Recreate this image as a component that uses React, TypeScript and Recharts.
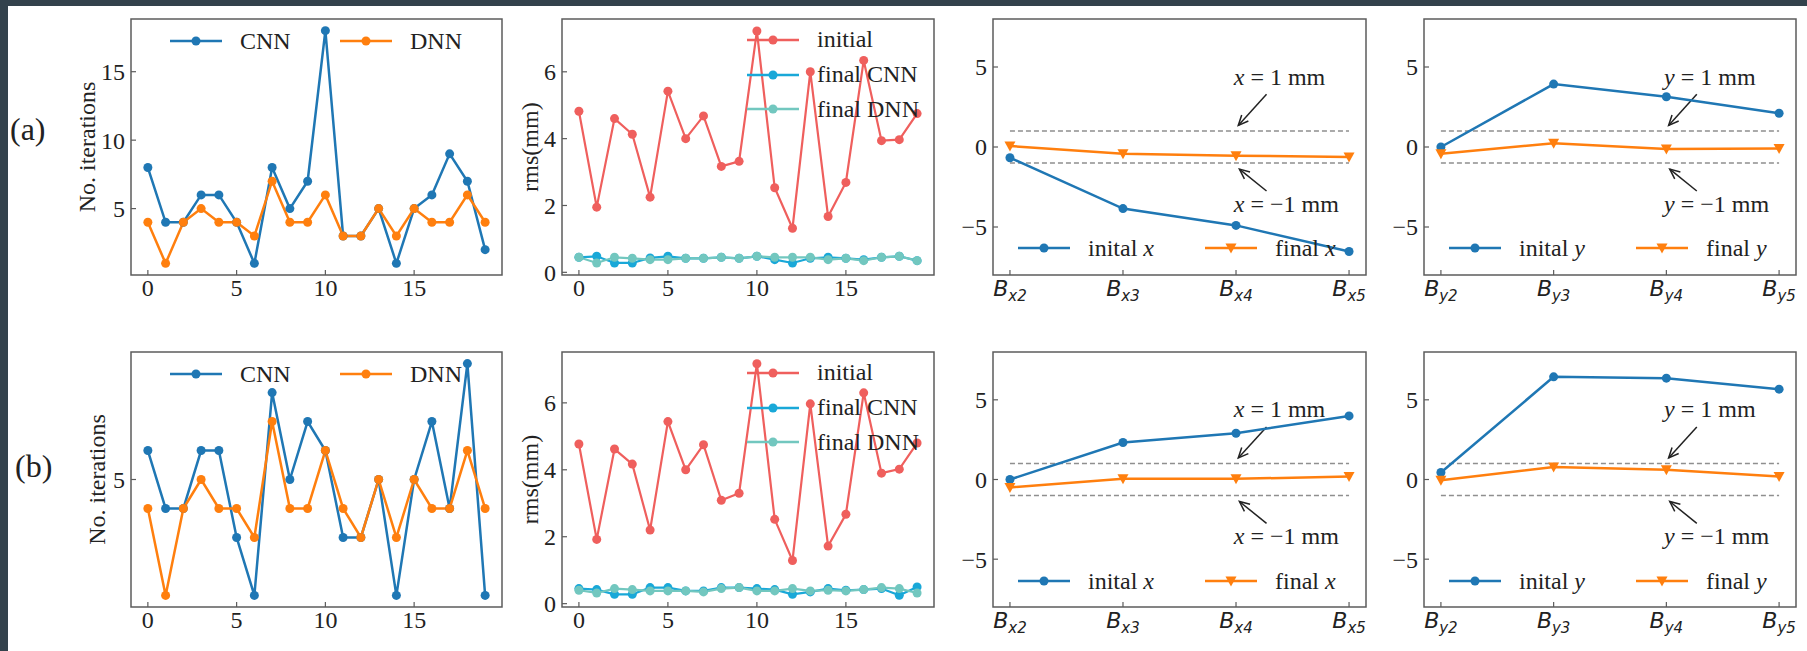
import React from "react";
import {
  Legend,
  Line,
  LineChart,
  ReferenceArea,
  ReferenceDot,
  ReferenceLine,
  XAxis,
  YAxis,
} from "recharts";

const SERIF = '"Liberation Serif", "Times New Roman", serif';
const SANS = '"DejaVu Sans", sans-serif';
const INK = "#222222";
const FRAME = "#5c5c5c";
const BLUE = "#1f77b4";
const ORANGE = "#ff7f0e";
const RED = "#ef5f5d";
const CYAN = "#19a8d8";
const TEAL = "#72c7bf";

// ---- data ----
const RUNS = [0, 1, 2, 3, 4, 5, 6, 7, 8, 9, 10, 11, 12, 13, 14, 15, 16, 17, 18, 19];
const RUN_TICKS = [0, 5, 10, 15];

const CNN_ITER_A = [8, 4, 4, 6, 6, 4, 1, 8, 5, 7, 18, 3, 3, 5, 1, 5, 6, 9, 7, 2];
const DNN_ITER_A = [4, 1, 4, 5, 4, 4, 3, 7, 4, 4, 6, 3, 3, 5, 3, 5, 4, 4, 6, 4];
const CNN_ITER_B = [6, 4, 4, 6, 6, 3, 1, 8, 5, 7, 6, 3, 3, 5, 1, 5, 7, 4, 9, 1];
const DNN_ITER_B = [4, 1, 4, 5, 4, 4, 3, 7, 4, 4, 6, 4, 3, 5, 3, 5, 4, 4, 6, 4];

const RMS_INIT_A = [4.82, 1.95, 4.6, 4.13, 2.25, 5.42, 4.0, 4.68, 3.17, 3.32, 7.22, 2.53, 1.32, 6.0, 1.67, 2.69, 6.34, 3.94, 3.97, 4.75];
const RMS_CNN_A = [0.45, 0.48, 0.28, 0.28, 0.43, 0.48, 0.42, 0.42, 0.45, 0.42, 0.48, 0.38, 0.28, 0.42, 0.45, 0.42, 0.38, 0.45, 0.48, 0.35];
const RMS_DNN_A = [0.45, 0.28, 0.45, 0.42, 0.38, 0.38, 0.42, 0.42, 0.45, 0.42, 0.48, 0.45, 0.45, 0.45, 0.38, 0.42, 0.35, 0.45, 0.48, 0.35];
const RMS_INIT_B = [4.77, 1.92, 4.62, 4.17, 2.2, 5.44, 4.0, 4.75, 3.09, 3.3, 7.17, 2.52, 1.29, 5.97, 1.72, 2.67, 6.3, 3.9, 4.02, 4.8];
const RMS_CNN_B = [0.45, 0.42, 0.28, 0.28, 0.48, 0.48, 0.38, 0.38, 0.48, 0.48, 0.45, 0.42, 0.28, 0.35, 0.45, 0.4, 0.42, 0.45, 0.25, 0.5];
const RMS_DNN_B = [0.4, 0.32, 0.45, 0.42, 0.38, 0.38, 0.38, 0.35, 0.45, 0.48, 0.38, 0.38, 0.45, 0.38, 0.4, 0.38, 0.42, 0.48, 0.45, 0.32];

const X_MONITORS = ["x2", "x3", "x4", "x5"];
const Y_MONITORS = ["y2", "y3", "y4", "y5"];
const OFFSET_TICKS = [-5, 0, 5];
const INIT_X_A = [-0.67, -3.85, -4.9, -6.53];
const FINAL_X_A = [0.06, -0.42, -0.54, -0.63];
const INIT_X_B = [0.0, 2.32, 2.9, 3.99];
const FINAL_X_B = [-0.5, 0.04, 0.04, 0.19];
const INIT_Y_A = [0.0, 3.93, 3.14, 2.11];
const FINAL_Y_A = [-0.42, 0.23, -0.13, -0.1];
const INIT_Y_B = [0.44, 6.44, 6.36, 5.67];
const FINAL_Y_B = [-0.04, 0.79, 0.61, 0.19];

// tolerance band and where its notes sit (data units)
const LIMIT = 1;
const NOTE_X = 1.98;
const NOTE_UP_Y = 4.4;
const NOTE_DOWN_Y = -3.55;
const ARROW_UP = [{ x: 2.27, y: 3.3 }, { x: 2.02, y: 1.35 }];
const ARROW_DOWN = [{ x: 2.27, y: -2.75 }, { x: 2.03, y: -1.38 }];

const PAD_L = 80;
const PAD_T = 19;
const PAD_R = 12;
const PAD_B = 45;
const LW = 2.5;
const MR = 4.5;

const fmt = (v: number) => (v < 0 ? `\u2212${Math.abs(v)}` : `${v}`);

function YTick(props: any) {
  const { x, y, payload } = props;
  return (
    <g>
      <line x1={x + 6} x2={x + 11} y1={y} y2={y} stroke={FRAME} strokeWidth={1.2} />
      <text x={x} y={y} dy="0.35em" textAnchor="end" fontFamily={SERIF} fontSize={24} fill={INK}>
        {fmt(payload.value)}
      </text>
    </g>
  );
}

function RunTick(props: any) {
  const { x, y, payload } = props;
  return (
    <g>
      <line x1={x} x2={x} y1={y - 5} y2={y - 10} stroke={FRAME} strokeWidth={1.2} />
      <text x={x} y={y + 16} textAnchor="middle" fontFamily={SERIF} fontSize={24} fill={INK}>
        {payload.value}
      </text>
    </g>
  );
}

function MonitorTick(props: any) {
  const { x, y, payload, names } = props;
  return (
    <g>
      <line x1={x} x2={x} y1={y - 5} y2={y - 10} stroke={FRAME} strokeWidth={1.2} />
      <text x={x} y={y + 16} textAnchor="middle" fontFamily={SANS} fill={INK}>
        <tspan fontSize={22} fontStyle="italic">B</tspan>
        <tspan fontSize={15} fontStyle="italic" dy={5}>{names[payload.value]}</tspan>
      </text>
    </g>
  );
}

const yTitle = (text: string, gap: number) => (props: any) => {
  const vb = props.viewBox;
  const cx = vb.x + vb.width - gap;
  const cy = vb.y + vb.height / 2;
  return (
    <text
      x={cx}
      y={cy}
      transform={`rotate(-90 ${cx} ${cy})`}
      textAnchor="middle"
      dominantBaseline="central"
      fontFamily={SERIF}
      fontSize={24}
      fill={INK}
    >
      {text}
    </text>
  );
};

function TriDown(props: any) {
  const { cx, cy, fill } = props;
  if (cx == null || cy == null) return null;
  return <path d={`M${cx - 5.5},${cy - 4.5} L${cx + 5.5},${cy - 4.5} L${cx},${cy + 5.5} Z`} fill={fill} />;
}

function Arrow(props: any) {
  const x1 = Number(props.x1), y1 = Number(props.y1), x2 = Number(props.x2), y2 = Number(props.y2);
  const ang = Math.atan2(y2 - y1, x2 - x1);
  const len = 11;
  const a1 = ang + Math.PI - 0.42;
  const a2 = ang + Math.PI + 0.42;
  return (
    <g stroke={INK} strokeWidth={1.5} fill="none">
      <line x1={x1} y1={y1} x2={x2} y2={y2} />
      <polyline
        points={`${x2 + len * Math.cos(a1)},${y2 + len * Math.sin(a1)} ${x2},${y2} ${x2 + len * Math.cos(a2)},${y2 + len * Math.sin(a2)}`}
      />
    </g>
  );
}

const noteShape = (axisVar: string, value: string) => (props: any) => (
  <text x={props.cx} y={props.cy} dominantBaseline="central" fontFamily={SERIF} fontSize={24} fill={INK}>
    <tspan fontStyle="italic">{axisVar}</tspan>
    {` = ${value} mm`}
  </text>
);

type Item = { label: React.ReactNode; color: string; tri?: boolean };

function LegendIcon({ color, tri }: { color: string; tri?: boolean }) {
  return (
    <svg width={52} height={14} style={{ display: "block", flex: "none" }}>
      <line x1={0} x2={52} y1={7} y2={7} stroke={color} strokeWidth={LW} />
      {tri ? (
        <path d="M20.5,2.5 L31.5,2.5 L26,12.5 Z" fill={color} />
      ) : (
        <circle cx={26} cy={7} r={MR} fill={color} />
      )}
    </svg>
  );
}

const legendBox = (items: Item[], vertical: boolean, stride: number) => () => (
  <div style={{ display: "flex", flexDirection: vertical ? "column" : "row" }}>
    {items.map((it, i) => (
      <div
        key={i}
        style={{
          display: "flex",
          alignItems: "center",
          height: vertical ? stride : 30,
          width: vertical ? undefined : stride,
          fontFamily: SERIF,
          fontSize: 24,
          color: INK,
          whiteSpace: "nowrap",
        }}
      >
        <LegendIcon color={it.color} tri={it.tri} />
        <span style={{ marginLeft: 18 }}>{it.label}</span>
      </div>
    ))}
  </div>
);

type Frame = { plotLeft: number; plotTop: number; plotW: number; plotH: number };

const circle = (c: string) => ({ r: MR, fill: c, stroke: c, strokeWidth: 0 });

function IterPanel(p: Frame & { cnn: number[]; dnn: number[]; yDomain: number[]; yTicks: number[]; gap: number }) {
  const rows = RUNS.map((run, i) => ({ run, cnn: p.cnn[i], dnn: p.dnn[i] }));
  return (
    <div style={{ position: "absolute", left: p.plotLeft - PAD_L, top: p.plotTop - PAD_T }}>
      <LineChart
        width={PAD_L + p.plotW + PAD_R}
        height={PAD_T + p.plotH + PAD_B}
        data={rows}
        margin={{ top: PAD_T, right: PAD_R, bottom: 0, left: 0 }}
      >
        <XAxis dataKey="run" type="number" domain={[-0.95, 19.95]} ticks={RUN_TICKS} allowDataOverflow
          axisLine={false} tickLine={false} tickSize={0} tickMargin={5} height={PAD_B} tick={(t: any) => <RunTick {...t} />} />
        <YAxis type="number" domain={p.yDomain} ticks={p.yTicks} allowDataOverflow width={PAD_L}
          axisLine={false} tickLine={false} tickSize={0} tickMargin={6} tick={(t: any) => <YTick {...t} />}
          label={yTitle("No. iterations", p.gap)} />
        <ReferenceArea x1={-0.95} x2={19.95} y1={p.yDomain[0]} y2={p.yDomain[1]} ifOverflow="visible"
          fill="none" fillOpacity={0} stroke={FRAME} strokeWidth={1.5} />
        <Line dataKey="cnn" name="CNN" stroke={BLUE} strokeWidth={LW} dot={circle(BLUE)} isAnimationActive={false} />
        <Line dataKey="dnn" name="DNN" stroke={ORANGE} strokeWidth={LW} dot={circle(ORANGE)} isAnimationActive={false} />
        <Legend layout="horizontal" align="center" verticalAlign="middle"
          wrapperStyle={{ left: 119, top: 26, width: "auto", height: "auto" }}
          content={legendBox([{ label: "CNN", color: BLUE }, { label: "DNN", color: ORANGE }], false, 170)} />
      </LineChart>
    </div>
  );
}

function RmsPanel(p: Frame & { init: number[]; cnn: number[]; dnn: number[]; yDomain: number[] }) {
  const rows = RUNS.map((run, i) => ({ run, init: p.init[i], cnn: p.cnn[i], dnn: p.dnn[i] }));
  return (
    <div style={{ position: "absolute", left: p.plotLeft - PAD_L, top: p.plotTop - PAD_T }}>
      <LineChart
        width={PAD_L + p.plotW + PAD_R}
        height={PAD_T + p.plotH + PAD_B}
        data={rows}
        margin={{ top: PAD_T, right: PAD_R, bottom: 0, left: 0 }}
      >
        <XAxis dataKey="run" type="number" domain={[-0.95, 19.95]} ticks={RUN_TICKS} allowDataOverflow
          axisLine={false} tickLine={false} tickSize={0} tickMargin={5} height={PAD_B} tick={(t: any) => <RunTick {...t} />} />
        <YAxis type="number" domain={p.yDomain} ticks={[0, 2, 4, 6]} allowDataOverflow width={PAD_L}
          axisLine={false} tickLine={false} tickSize={0} tickMargin={6} tick={(t: any) => <YTick {...t} />}
          label={yTitle("rms(mm)", 32)} />
        <ReferenceArea x1={-0.95} x2={19.95} y1={p.yDomain[0]} y2={p.yDomain[1]} ifOverflow="visible"
          fill="none" fillOpacity={0} stroke={FRAME} strokeWidth={1.5} />
        <Line dataKey="init" name="initial" stroke={RED} strokeWidth={2.2} dot={circle(RED)} isAnimationActive={false} />
        <Line dataKey="cnn" name="final CNN" stroke={CYAN} strokeWidth={2.2} dot={circle(CYAN)} isAnimationActive={false} />
        <Line dataKey="dnn" name="final DNN" stroke={TEAL} strokeWidth={2.2} dot={circle(TEAL)} isAnimationActive={false} />
        <Legend layout="horizontal" align="center" verticalAlign="middle"
          wrapperStyle={{ left: 265, top: 22.5, width: "auto", height: "auto" }}
          content={legendBox(
            [
              { label: "initial", color: RED },
              { label: "final CNN", color: CYAN },
              { label: "final DNN", color: TEAL },
            ],
            true,
            34.7,
          )} />
      </LineChart>
    </div>
  );
}

function OffsetPanel(p: Frame & { names: string[]; axisVar: string; init: number[]; fin: number[] }) {
  const rows = p.names.map((name, i) => ({ pos: i, name, init: p.init[i], fin: p.fin[i] }));
  const v = p.axisVar;
  return (
    <div style={{ position: "absolute", left: p.plotLeft - PAD_L, top: p.plotTop - PAD_T }}>
      <LineChart
        width={PAD_L + p.plotW + PAD_R}
        height={PAD_T + p.plotH + PAD_B}
        data={rows}
        margin={{ top: PAD_T, right: PAD_R, bottom: 0, left: 0 }}
      >
        <XAxis dataKey="pos" type="number" domain={[-0.15, 3.15]} ticks={[0, 1, 2, 3]} allowDataOverflow
          axisLine={false} tickLine={false} tickSize={0} tickMargin={5} height={PAD_B}
          tick={(t: any) => <MonitorTick {...t} names={p.names} />} />
        <YAxis type="number" domain={[-8, 8]} ticks={OFFSET_TICKS} allowDataOverflow width={PAD_L}
          axisLine={false} tickLine={false} tickSize={0} tickMargin={6} tick={(t: any) => <YTick {...t} />} />
        <ReferenceArea x1={-0.15} x2={3.15} y1={-8} y2={8} ifOverflow="visible"
          fill="none" fillOpacity={0} stroke={FRAME} strokeWidth={1.5} />
        <ReferenceLine segment={[{ x: 0, y: LIMIT }, { x: 3, y: LIMIT }]} stroke="#8f8f8f" strokeWidth={1.4} strokeDasharray="5 3" />
        <ReferenceLine segment={[{ x: 0, y: -LIMIT }, { x: 3, y: -LIMIT }]} stroke="#8f8f8f" strokeWidth={1.4} strokeDasharray="5 3" />
        <ReferenceLine segment={ARROW_UP} ifOverflow="visible" shape={(s: any) => <Arrow {...s} />} />
        <ReferenceLine segment={ARROW_DOWN} ifOverflow="visible" shape={(s: any) => <Arrow {...s} />} />
        <ReferenceDot x={NOTE_X} y={NOTE_UP_Y} r={0} ifOverflow="visible" shape={noteShape(v, "1")} />
        <ReferenceDot x={NOTE_X} y={NOTE_DOWN_Y} r={0} ifOverflow="visible" shape={noteShape(v, "\u22121")} />
        <Line dataKey="init" name={`inital ${v}`} stroke={BLUE} strokeWidth={LW} dot={circle(BLUE)} isAnimationActive={false} />
        <Line dataKey="fin" name={`final ${v}`} stroke={ORANGE} strokeWidth={LW}
          dot={(d: any) => <TriDown key={`t${d.index}`} cx={d.cx} cy={d.cy} fill={ORANGE} />} isAnimationActive={false} />
        <Legend layout="horizontal" align="center" verticalAlign="middle"
          wrapperStyle={{ left: 105, top: 233, width: "auto", height: "auto" }}
          content={legendBox(
            [
              { label: <>inital <i>{v}</i></>, color: BLUE },
              { label: <>final <i>{v}</i></>, color: ORANGE, tri: true },
            ],
            false,
            187,
          )} />
      </LineChart>
    </div>
  );
}

const COLS = [
  { left: 131, w: 371 },
  { left: 562, w: 372 },
  { left: 993, w: 373 },
  { left: 1424, w: 372 },
];
const ROWS = [
  { top: 19, h: 256 },
  { top: 352, h: 255 },
];

export default function App() {
  const f = (c: number, r: number) => ({
    plotLeft: COLS[c].left,
    plotW: COLS[c].w,
    plotTop: ROWS[r].top,
    plotH: ROWS[r].h,
  });
  return (
    <div style={{ position: "fixed", left: 0, top: 0, width: 1807, height: 651, background: "#33424c", overflow: "hidden" }}>
      <div style={{ position: "absolute", left: 8, top: 6, right: 0, bottom: 0, background: "#ffffff" }}>
        <div style={{ position: "absolute", left: -8, top: -6 }}>
          <div style={{ position: "absolute", left: 10, top: 111, fontFamily: SERIF, fontSize: 32, color: INK, whiteSpace: "nowrap" }}>(a)</div>
          <div style={{ position: "absolute", left: 15, top: 448, fontFamily: SERIF, fontSize: 32, color: INK, whiteSpace: "nowrap" }}>(b)</div>

          <IterPanel {...f(0, 0)} cnn={CNN_ITER_A} dnn={DNN_ITER_A} yDomain={[0.15, 18.85]} yTicks={[5, 10, 15]} gap={44} />
          <RmsPanel {...f(1, 0)} init={RMS_INIT_A} cnn={RMS_CNN_A} dnn={RMS_DNN_A} yDomain={[-0.08, 7.58]} />
          <OffsetPanel {...f(2, 0)} names={X_MONITORS} axisVar="x" init={INIT_X_A} fin={FINAL_X_A} />
          <OffsetPanel {...f(3, 0)} names={Y_MONITORS} axisVar="y" init={INIT_Y_A} fin={FINAL_Y_A} />

          <IterPanel {...f(0, 1)} cnn={CNN_ITER_B} dnn={DNN_ITER_B} yDomain={[0.6, 9.4]} yTicks={[5]} gap={34} />
          <RmsPanel {...f(1, 1)} init={RMS_INIT_B} cnn={RMS_CNN_B} dnn={RMS_DNN_B} yDomain={[-0.1, 7.52]} />
          <OffsetPanel {...f(2, 1)} names={X_MONITORS} axisVar="x" init={INIT_X_B} fin={FINAL_X_B} />
          <OffsetPanel {...f(3, 1)} names={Y_MONITORS} axisVar="y" init={INIT_Y_B} fin={FINAL_Y_B} />
        </div>
      </div>
    </div>
  );
}
